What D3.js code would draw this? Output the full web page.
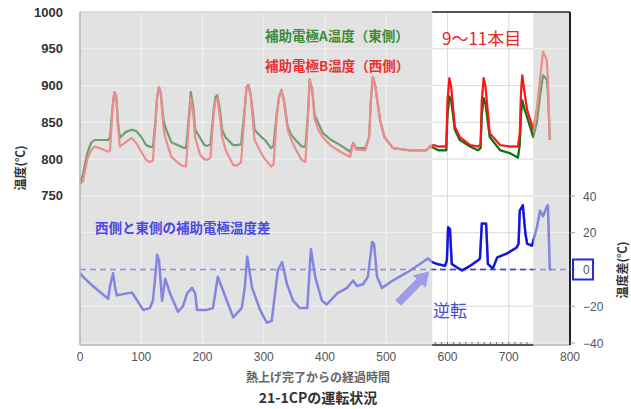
<!DOCTYPE html>
<html>
<head>
<meta charset="utf-8">
<script src="https://cdn.jsdelivr.net/npm/d3@7/dist/d3.min.js"></script>
<style>
body { margin: 0; background: #fff; }
text { font-family: "Liberation Sans", "Noto Sans CJK JP", sans-serif; }
.jp { font-family: "Noto Sans CJK JP", "Liberation Sans", sans-serif; }
</style>
</head>
<body>
<svg id="chart" width="631" height="409"></svg>
<script>

// elapsed time after heat-up, and electrode temperatures (A = east, B = west)
var times = [0, 5, 12, 18, 24, 35, 46, 49, 53, 56, 59, 62, 65, 75, 84, 92, 100, 108, 114, 119,
    123, 126, 129, 132, 136, 139, 149, 160, 167, 173, 177, 181, 185, 188, 196, 203, 208, 213,
    218, 221, 224, 228, 232, 238, 250, 256, 263, 268, 272, 275, 279, 285, 296, 302, 312, 316,
    321, 325, 329, 333, 339, 345, 353, 362, 368, 372, 375, 379, 383, 389, 397, 410, 425, 441,
    446, 451, 466, 472, 475, 478, 482, 487, 490, 497, 511, 539, 565, 572, 578, 585, 598, 600,
    603, 606, 612, 620, 637, 650, 654, 656, 659, 662, 669, 686, 702, 715, 718, 720, 722, 725,
    730, 740, 746, 751, 756, 762, 764, 767];
var tempA = [768, 780, 808, 822, 826, 826, 826, 830, 870, 891, 887, 850, 829, 837, 840, 838, 830, 819, 817, 816,
    850, 885, 898, 890, 855, 844, 823, 819, 816, 815, 850, 891, 870, 840, 829, 819, 818, 820,
    865, 884, 887, 870, 840, 829, 819, 819, 820, 860, 898, 901, 885, 840, 830, 826, 815, 818,
    860, 885, 894, 880, 844, 833, 825, 817, 817, 860, 908, 895, 860, 849, 835, 826, 819, 810,
    822, 815, 815, 830, 880, 912, 900, 870, 853, 830, 815, 812, 812, 817, 815, 812, 812, 860,
    885, 880, 840, 826, 817, 812, 815, 860, 883, 875, 830, 812, 808, 802, 820, 860, 880, 870,
    857, 830, 850, 885, 914, 908, 890, 826];
var tempB = [766, 770, 800, 812, 817, 814, 810, 812, 868, 891, 886, 845, 817, 823, 829, 822, 810, 799, 796, 798,
    845, 885, 898, 887, 845, 830, 803, 795, 791, 790, 840, 883, 860, 830, 806, 800, 799, 802,
    860, 880, 883, 860, 830, 812, 792, 791, 796, 855, 898, 901, 885, 826, 808, 800, 790, 793,
    855, 884, 893, 878, 840, 826, 812, 799, 796, 855, 908, 895, 855, 840, 829, 818, 810, 803,
    822, 813, 812, 830, 880, 912, 900, 870, 853, 830, 815, 812, 812, 818, 819, 817, 817, 880,
    910, 898, 844, 830, 819, 817, 820, 880, 910, 898, 835, 819, 817, 817, 835, 890, 914, 895,
    867, 840, 870, 908, 946, 935, 905, 826];

// west minus east temperature difference
var diffTimes = [0, 5, 21, 46, 49, 54, 57, 60, 77, 85, 103, 114, 119, 124, 126, 129, 134, 139, 147, 160,
    168, 175, 183, 188, 191, 207, 217, 225, 233, 250, 264, 269, 273, 281, 294, 305, 313, 323,
    330, 338, 348, 359, 371, 377, 384, 395, 403, 420, 436, 446, 452, 462, 470, 477, 480, 485,
    493, 511, 534, 555, 568, 575, 583, 596, 599, 601, 604, 607, 616, 624, 637, 650, 653, 656,
    663, 666, 674, 681, 697, 713, 716, 718, 723, 727, 730, 738, 746, 751, 756, 762, 764, 767, 770];
var diffVals = [-2, -4, -9, -16, -9, -2, -9, -14, -13, -12.5, -22, -21, -17, 0, 8, 5, -17, -5, -13, -23,
    -20, -13, -10, -13, -22, -22, -21, -4, -11, -26, -21, -10, 7, -10, -22, -29, -28, -0.5,
    4, -8, -17, -21, -21, 11, -4, -17, -19, -13, -10, -6, -9, -8, -4, 15, 14, -4,
    -10, -6, -1.6, 3, 6, 4, 3, 2, 5, 23, 22, 3, 1, -0.5, 2, 5, 6, 25,
    25, 3, 0.5, 6.5, 8.7, 12, 14, 32, 35, 20, 14, 13, 23, 32, 29, 34, 35, 0, 0];

var xTicks = [0, 100, 200, 300, 400, 500, 600, 700, 800];
var leftTicks = [750, 800, 850, 900, 950, 1000];
var gridTemps = [550, 600, 650, 700, 750, 800, 850, 900, 950, 1000];
var rightTicks = [40, 20, 0, -20, -40];
var runStart = 575, runEnd = 740;   // 9~11本目 period

var svg = d3.select("#chart");
var x = d3.scaleLinear().domain([0, 800]).range([80, 570]);
var yL = d3.scaleLinear().domain([550, 1000]).range([343, 12]);
var yR = d3.scaleLinear().domain([-40, 40]).range([343, 196]);
var top_ = 12, bottom = 345;

svg.append("defs").append("clipPath").attr("id", "runClip")
    .append("rect")
    .attr("x", x(runStart)).attr("y", top_)
    .attr("width", x(runEnd) - x(runStart)).attr("height", bottom - top_);

// background
svg.append("rect").attr("x", x(0)).attr("y", top_)
    .attr("width", x(800) - x(0)).attr("height", bottom - top_)
    .style("fill", "#e2e2e2");
svg.append("rect").attr("x", x(runStart)).attr("y", top_)
    .attr("width", x(runEnd) - x(runStart)).attr("height", bottom - top_)
    .style("fill", "#ffffff");

// grid
function drawGrid(g, col) {
    g.selectAll("line.h").data(gridTemps).enter().append("line")
        .attr("x1", x(0)).attr("x2", x(800))
        .attr("y1", function(d) { return yL(d); }).attr("y2", function(d) { return yL(d); })
        .style("stroke", col).style("stroke-width", 1);
    g.selectAll("line.v").data(xTicks.slice(1, 8)).enter().append("line")
        .attr("y1", top_).attr("y2", bottom)
        .attr("x1", function(d) { return x(d); }).attr("x2", function(d) { return x(d); })
        .style("stroke", col).style("stroke-width", 1);
}
drawGrid(svg.append("g"), "#f2f2f2");
drawGrid(svg.append("g").attr("clip-path", "url(#runClip)"), "#dcdcdc");

// zero line of the difference
var zeroLine = function(g, col) {
    g.append("line")
        .attr("x1", x(0)).attr("x2", x(800))
        .attr("y1", yR(0)).attr("y2", yR(0))
        .style("stroke", col).style("stroke-width", 1.5)
        .style("stroke-dasharray", "6,4");
};
zeroLine(svg.append("g"), "#8a8ade");
zeroLine(svg.append("g").attr("clip-path", "url(#runClip)"), "#4646b4");

var ab = times.map(function(t, i) { return {t: t, a: tempA[i], b: tempB[i]}; });
var dd = diffTimes.map(function(t, i) { return {t: t, v: diffVals[i]}; });

var lineA = d3.line().x(function(d) { return x(d.t); }).y(function(d) { return yL(d.a); });
var lineB = d3.line().x(function(d) { return x(d.t); }).y(function(d) { return yL(d.b); });
var lineD = d3.line().x(function(d) { return x(d.t); }).y(function(d) { return yR(d.v); });

function drawLines(g, colA, colB, colD, w) {
    g.append("path").attr("d", lineA(ab))
        .style("fill", "none").style("stroke", colA).style("stroke-width", w)
        .style("stroke-linejoin", "round");
    g.append("path").attr("d", lineB(ab))
        .style("fill", "none").style("stroke", colB).style("stroke-width", w)
        .style("stroke-linejoin", "round");
    g.append("path").attr("d", lineD(dd))
        .style("fill", "none").style("stroke", colD).style("stroke-width", w + 0.3)
        .style("stroke-linejoin", "round");
}
drawLines(svg.append("g"), "#6f9f6f", "#ec8c8c", "#8484e2", 2.2);
var strong = svg.append("g").attr("clip-path", "url(#runClip)");
drawLines(strong, "#127012", "#ff1414", "#1414dc", 2);

// frame
svg.append("line").attr("x1", x(0)).attr("x2", x(0)).attr("y1", top_).attr("y2", bottom)
    .style("stroke", "#b4b4b4").style("stroke-width", 1.5);
svg.append("line").attr("x1", x(0)).attr("x2", x(runStart)).attr("y1", top_).attr("y2", top_)
    .style("stroke", "#c8c8c8");
svg.append("line").attr("x1", x(0)).attr("x2", x(800)).attr("y1", bottom).attr("y2", bottom)
    .style("stroke", "#b4b4b4").style("stroke-width", 1.5);
svg.append("line").attr("x1", x(runStart)).attr("x2", x(800)).attr("y1", top_).attr("y2", top_)
    .style("stroke", "#222").style("stroke-width", 1.5);
svg.append("line").attr("x1", x(800)).attr("x2", x(800)).attr("y1", top_).attr("y2", bottom)
    .style("stroke", "#222").style("stroke-width", 2);
svg.append("line").attr("x1", x(runStart)).attr("x2", x(runEnd)).attr("y1", bottom).attr("y2", bottom)
    .style("stroke", "#333").style("stroke-width", 1.5);
svg.selectAll("line.minor").data(d3.range(runStart + 5, runEnd, 10)).enter().append("line")
    .attr("x1", function(d) { return x(d); }).attr("x2", function(d) { return x(d); })
    .attr("y1", bottom - 3).attr("y2", bottom)
    .style("stroke", "#555").style("stroke-width", 0.8);

// axes labels
svg.selectAll("text.lt").data(leftTicks).enter().append("text")
    .attr("x", 63).attr("y", function(d) { return yL(d) + 4.5; })
    .attr("text-anchor", "end")
    .style("font-size", "13px").style("font-weight", "bold").style("fill", "#333")
    .text(function(d) { return d; });

svg.selectAll("text.xt").data(xTicks).enter().append("text")
    .attr("x", function(d) { return x(d); }).attr("y", 361)
    .attr("text-anchor", "middle")
    .style("font-size", "12px").style("fill", "#555")
    .text(function(d) { return d; });

svg.selectAll("line.rt").data(rightTicks).enter().append("line")
    .attr("x1", x(800)).attr("x2", x(800) + 5)
    .attr("y1", function(d) { return yR(d); }).attr("y2", function(d) { return yR(d); })
    .style("stroke", "#999");
svg.selectAll("text.rt").data(rightTicks).enter().append("text")
    .attr("x", 583).attr("y", function(d) { return yR(d) + 4.5; })
    .style("font-size", "12px").style("fill", "#555")
    .text(function(d) { return d < 0 ? "\u2212" + Math.abs(d) : d; });

svg.append("rect").attr("x", 573).attr("y", yR(0) - 10).attr("width", 20).attr("height", 20)
    .style("fill", "none").style("stroke", "#2a2ad6").style("stroke-width", 2);

svg.append("text").attr("class", "jp")
    .attr("transform", "translate(25,168) rotate(-90)")
    .attr("text-anchor", "middle")
    .style("font-size", "12px").style("font-weight", "bold").style("fill", "#333")
    .text("温度(℃)");
svg.append("text").attr("class", "jp")
    .attr("transform", "translate(627,270) rotate(-90)")
    .attr("text-anchor", "middle")
    .style("font-size", "12px").style("font-weight", "bold").style("fill", "#333")
    .text("温度差(℃)");

svg.append("text").attr("class", "jp")
    .attr("x", 318).attr("y", 382).attr("text-anchor", "middle")
    .style("font-size", "12px").style("font-weight", "bold").style("fill", "#666")
    .text("熱上げ完了からの経過時間");
svg.append("text").attr("class", "jp")
    .attr("x", 318).attr("y", 403).attr("text-anchor", "middle")
    .style("font-size", "14px").style("font-weight", "bold").style("fill", "#333")
    .text("21-1CPの運転状況");

// annotations
svg.append("text").attr("class", "jp")
    .attr("x", 265).attr("y", 41)
    .style("font-size", "13.5px").style("font-weight", "bold").style("fill", "#3a8c3a")
    .text("補助電極A温度（東側）");
svg.append("text").attr("class", "jp")
    .attr("x", 265).attr("y", 71)
    .style("font-size", "13.5px").style("font-weight", "bold").style("fill", "#e83232")
    .text("補助電極B温度（西側）");
svg.append("text").attr("class", "jp")
    .attr("x", 442).attr("y", 45)
    .style("font-size", "17px").style("fill", "#e82626")
    .text("9～11本目");
svg.append("text").attr("class", "jp")
    .attr("x", 95).attr("y", 233)
    .style("font-size", "13.5px").style("font-weight", "bold").style("fill", "#4a4ae0")
    .text("西側と東側の補助電極温度差");
svg.append("text").attr("class", "jp")
    .attr("x", 433).attr("y", 317)
    .style("font-size", "17px").style("fill", "#4a4ad2")
    .text("逆転");

// arrow pointing at the crossover
var head = [x(570), yR(0) + 2];
var tail = [398, 303];
var ang = Math.atan2(head[1] - tail[1], head[0] - tail[0]) * 180 / Math.PI;
var len = Math.hypot(head[0] - tail[0], head[1] - tail[1]);
svg.append("path")
    .attr("d", "M0,-4 L" + (len - 14) + ",-4 L" + (len - 14) + ",-9 L" + len + ",0 L" +
        (len - 14) + ",9 L" + (len - 14) + ",4 L0,4 Z")
    .attr("transform", "translate(" + tail[0] + "," + tail[1] + ") rotate(" + ang + ")")
    .style("fill", "#9c9ce8");

</script>
</body>
</html>
